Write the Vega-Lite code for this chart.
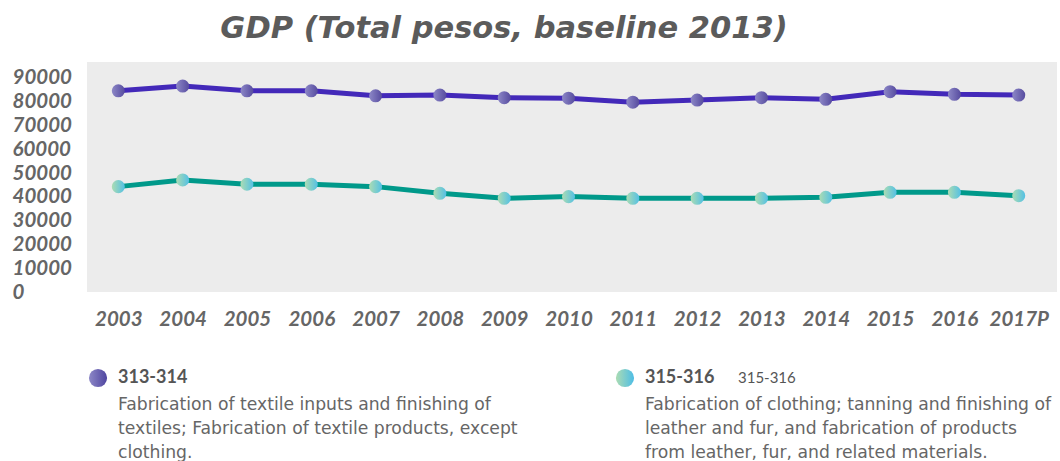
{
  "$schema": "https://vega.github.io/schema/vega-lite/v6.json",
  "background": "#ffffff",
  "padding": {"left": 12, "top": 14, "right": 3, "bottom": 0},
  "spacing": 36,
  "config": {"view": {"stroke": null}, "font": "Lato"},
  "datasets": {
    "gdp": [
      {"series": "313-314", "year": "2003", "value": 84600},
      {"series": "313-314", "year": "2004", "value": 86600},
      {"series": "313-314", "year": "2005", "value": 84600},
      {"series": "313-314", "year": "2006", "value": 84600},
      {"series": "313-314", "year": "2007", "value": 82500},
      {"series": "313-314", "year": "2008", "value": 82800},
      {"series": "313-314", "year": "2009", "value": 81700},
      {"series": "313-314", "year": "2010", "value": 81500},
      {"series": "313-314", "year": "2011", "value": 79800},
      {"series": "313-314", "year": "2012", "value": 80700},
      {"series": "313-314", "year": "2013", "value": 81700},
      {"series": "313-314", "year": "2014", "value": 81000},
      {"series": "313-314", "year": "2015", "value": 84200},
      {"series": "313-314", "year": "2016", "value": 83100},
      {"series": "313-314", "year": "2017P", "value": 82800},
      {"series": "315-316", "year": "2003", "value": 44300},
      {"series": "315-316", "year": "2004", "value": 47100},
      {"series": "315-316", "year": "2005", "value": 45300},
      {"series": "315-316", "year": "2006", "value": 45300},
      {"series": "315-316", "year": "2007", "value": 44300},
      {"series": "315-316", "year": "2008", "value": 41500},
      {"series": "315-316", "year": "2009", "value": 39400},
      {"series": "315-316", "year": "2010", "value": 40100},
      {"series": "315-316", "year": "2011", "value": 39400},
      {"series": "315-316", "year": "2012", "value": 39400},
      {"series": "315-316", "year": "2013", "value": 39400},
      {"series": "315-316", "year": "2014", "value": 39800},
      {"series": "315-316", "year": "2015", "value": 41900},
      {"series": "315-316", "year": "2016", "value": 41900},
      {"series": "315-316", "year": "2017P", "value": 40500}
    ],
    "legend": [
      {"series": "313-314", "line": "0", "kind": "code", "text": "313-314"},
      {"series": "313-314", "line": "1", "kind": "desc", "text": "Fabrication of textile inputs and finishing of"},
      {"series": "313-314", "line": "2", "kind": "desc", "text": "textiles; Fabrication of textile products, except"},
      {"series": "313-314", "line": "3", "kind": "desc", "text": "clothing."},
      {"series": "315-316", "line": "0", "kind": "code", "text": "315-316"},
      {"series": "315-316", "line": "0", "kind": "alt", "text": "315-316"},
      {"series": "315-316", "line": "1", "kind": "desc", "text": "Fabrication of clothing; tanning and finishing of"},
      {"series": "315-316", "line": "2", "kind": "desc", "text": "leather and fur, and fabrication of products"},
      {"series": "315-316", "line": "3", "kind": "desc", "text": "from leather, fur, and related materials."}
    ]
  },
  "vconcat": [
    {
      "width": 970,
      "height": 230,
      "view": {"fill": "#ececec", "stroke": null},
      "title": {
        "text": "GDP (Total pesos, baseline 2013)",
        "font": "DejaVu Sans",
        "fontSize": 30.5,
        "fontStyle": "italic",
        "fontWeight": "bold",
        "color": "#5b5b5b",
        "anchor": "middle",
        "frame": "group",
        "dx": -68,
        "offset": 17.5
      },
      "data": {"name": "gdp"},
      "encoding": {
        "x": {
          "field": "year",
          "type": "ordinal",
          "sort": null,
          "scale": {"type": "point", "padding": 0.541, "align": 0.45},
          "axis": {
            "title": null,
            "labelAngle": 0,
            "ticks": false,
            "tickSize": 0,
            "domain": false,
            "grid": false,
            "labelPadding": 17,
            "labelFont": "Lato",
            "labelFontSize": 20.5,
            "labelFontStyle": "italic",
            "labelFontWeight": "bold",
            "labelColor": "#666666",
            "labelOverlap": false
          }
        },
        "y": {
          "field": "value",
          "type": "quantitative",
          "scale": {"domain": [0, 96700], "nice": false},
          "axis": {
            "title": null,
            "format": "d",
            "values": [0, 10000, 20000, 30000, 40000, 50000, 60000, 70000, 80000, 90000],
            "ticks": false,
            "tickSize": 0,
            "domain": false,
            "grid": false,
            "labelAlign": "left",
            "labelPadding": 75,
            "labelFont": "Lato",
            "labelFontSize": 20.5,
            "labelFontStyle": "italic",
            "labelFontWeight": "bold",
            "labelColor": "#666666",
            "labelOverlap": false,
            "labelFlush": false,
            "labelBound": false
          }
        }
      },
      "layer": [
        {
          "mark": {"type": "line", "strokeWidth": 5},
          "encoding": {
            "color": {
              "field": "series",
              "type": "nominal",
              "scale": {"domain": ["313-314", "315-316"], "range": ["#4329b9", "#00998a"]},
              "legend": null
            }
          }
        },
        {
          "transform": [{"filter": "datum.series === '313-314'"}],
          "mark": {
            "type": "point",
            "filled": true,
            "size": 170,
            "opacity": 1,
            "strokeWidth": 0,
            "fill": {"gradient": "linear", "x1": 0, "y1": 0, "x2": 1, "y2": 0, "stops": [{"offset": 0, "color": "#8d88c7"}, {"offset": 1, "color": "#564b9f"}]}
          }
        },
        {
          "transform": [{"filter": "datum.series === '315-316'"}],
          "mark": {
            "type": "point",
            "filled": true,
            "size": 170,
            "opacity": 1,
            "strokeWidth": 0,
            "fill": {"gradient": "linear", "x1": 0, "y1": 0, "x2": 1, "y2": 0, "stops": [{"offset": 0, "color": "#acdcb3"}, {"offset": 1, "color": "#53c0e4"}]}
          }
        }
      ]
    },
    {
      "width": 549,
      "height": 96,
      "view": {"stroke": null},
      "data": {"name": "legend"},
      "encoding": {
        "x": {"field": "series", "type": "nominal", "scale": {"type": "point", "padding": 0.0209}, "axis": null},
        "y": {"field": "line", "type": "ordinal", "scale": {"type": "point", "padding": 0.5}, "axis": null}
      },
      "layer": [
        {
          "transform": [{"filter": "datum.kind === 'code' && datum.series === '313-314'"}],
          "mark": {
            "type": "point", "filled": true, "size": 330, "opacity": 1, "strokeWidth": 0,
            "fill": {"gradient": "linear", "x1": 0, "y1": 0, "x2": 1, "y2": 0, "stops": [{"offset": 0, "color": "#8d88c7"}, {"offset": 1, "color": "#4f45a0"}]}
          }
        },
        {
          "transform": [{"filter": "datum.kind === 'code' && datum.series === '315-316'"}],
          "mark": {
            "type": "point", "filled": true, "size": 330, "opacity": 1, "strokeWidth": 0,
            "fill": {"gradient": "linear", "x1": 0, "y1": 0, "x2": 1, "y2": 0, "stops": [{"offset": 0, "color": "#acdcb3"}, {"offset": 1, "color": "#4dbde6"}]}
          }
        },
        {
          "transform": [{"filter": "datum.kind === 'code'"}],
          "mark": {"type": "text", "align": "left", "baseline": "middle", "dx": 20, "font": "Lato", "fontSize": 18, "fontWeight": "bold", "color": "#555555"},
          "encoding": {"text": {"field": "text"}}
        },
        {
          "transform": [{"filter": "datum.kind === 'alt'"}],
          "mark": {"type": "text", "align": "left", "baseline": "middle", "dx": 113, "font": "Lato", "fontSize": 15, "fontWeight": "normal", "color": "#555555"},
          "encoding": {"text": {"field": "text"}}
        },
        {
          "transform": [{"filter": "datum.kind === 'desc'"}],
          "mark": {"type": "text", "align": "left", "baseline": "middle", "dx": 20, "dy": 3, "font": "DejaVu Sans", "fontSize": 17.2, "fontWeight": "normal", "color": "#666666"},
          "encoding": {"text": {"field": "text"}}
        }
      ]
    }
  ]
}
